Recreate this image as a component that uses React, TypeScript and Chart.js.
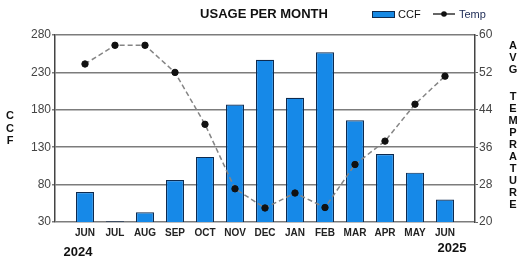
import { useEffect, useRef } from "react";
import { Chart, registerables } from "chart.js";
Chart.register(...registerables);

const months = ["JUN", "JUL", "AUG", "SEP", "OCT", "NOV", "DEC", "JAN", "FEB", "MAR", "APR", "MAY", "JUN"];
const ccf = [70, 31, 43, 86, 117, 187, 247, 196, 257, 166, 121, 96, 60];
const temp = [53.8, 57.8, 57.8, 52, 40.9, 27.1, 23, 26.2, 23.1, 32.3, 37.3, 45.2, 51.2];
const ccfMin = 30;
const ccfMax = 280;
const ccfStep = 50;
const tempMin = 20;
const tempMax = 60;
const tempStep = 8;
const yearStart = "2024";
const yearEnd = "2025";
const title = "USAGE PER MONTH";
const leftTitle = ["C", "C", "F"];
const rightTitle = ["A", "V", "G", "", "T", "E", "M", "P", "R", "A", "T", "U", "R", "E"];

const FONT = "'Liberation Sans', Arial, sans-serif";

const overlay = {
  id: "overlay",
  afterDraw(chart: any) {
    const ctx = chart.ctx;
    ctx.save();
    ctx.fillStyle = "#111";
    ctx.textBaseline = "middle";
    // title
    ctx.font = `bold 13px ${FONT}`;
    ctx.textAlign = "center";
    ctx.fillText(title, 264, 14);
    // legend
    ctx.fillStyle = "#1689e4";
    ctx.fillRect(372, 11, 23, 7);
    ctx.strokeStyle = "#0d2a4f";
    ctx.lineWidth = 1;
    ctx.strokeRect(372.5, 11.5, 22, 6);
    ctx.fillStyle = "#111";
    ctx.font = `11px ${FONT}`;
    ctx.textAlign = "left";
    ctx.fillText("CCF", 398, 14.5);
    ctx.strokeStyle = "#333";
    ctx.lineWidth = 1.5;
    ctx.beginPath();
    ctx.moveTo(433, 14);
    ctx.lineTo(455, 14);
    ctx.stroke();
    ctx.beginPath();
    ctx.arc(444, 14, 2.8, 0, Math.PI * 2);
    ctx.fillStyle = "#111";
    ctx.fill();
    ctx.fillStyle = "#1c2a55";
    ctx.font = `11px ${FONT}`;
    ctx.fillText("Temp", 459, 14.5);
    // axis titles
    ctx.fillStyle = "#111";
    ctx.font = `bold 11px ${FONT}`;
    ctx.textAlign = "center";
    leftTitle.forEach((c, i) => ctx.fillText(c, 10, 116 + i * 12.5));
    const rightY = [46, 58, 70, 0, 97, 109, 121, 133, 145, 157, 169, 181, 193, 205];
    rightTitle.forEach((c, i) => {
      if (c) ctx.fillText(c, 513, rightY[i]);
    });
    // years
    ctx.font = `bold 13px ${FONT}`;
    ctx.fillText(yearStart, 78, 252);
    ctx.fillText(yearEnd, 452, 248);
    ctx.restore();
  },
};

export default function App() {
  const ref = useRef<HTMLCanvasElement | null>(null);
  useEffect(() => {
    if (!ref.current) return;
    const labels = ["", ...months, ""];
    const chart = new Chart(ref.current, {
      type: "bar",
      data: {
        labels,
        datasets: [
          {
            type: "line",
            label: "Temp",
            data: [null, ...temp, null],
            yAxisID: "y1",
            borderColor: "#858585",
            borderWidth: 1.5,
            borderDash: [5, 3],
            pointRadius: 3.2,
            pointBackgroundColor: "#111",
            pointBorderColor: "#111",
            pointBorderWidth: 1,
            spanGaps: false,
            order: 0,
          } as any,
          {
            type: "bar",
            label: "CCF",
            data: [null, ...ccf, null],
            yAxisID: "y",
            backgroundColor: "#1689e8",
            borderColor: "#0d2a4f",
            borderWidth: 1.2,
            barPercentage: 0.75,
            categoryPercentage: 0.8,
            order: 1,
          } as any,
        ],
      },
      options: {
        responsive: false,
        animation: false,
        devicePixelRatio: 1,
        layout: { padding: { top: 35, left: 0, right: 0, bottom: 0 } },
        plugins: {
          legend: { display: false },
          title: { display: false },
          tooltip: { enabled: false },
        },
        scales: {
          x: {
            offset: false,
            grid: { display: false, drawTicks: false, tickLength: 0 },
            border: { display: false },
            ticks: {
              font: { family: FONT, size: 10, weight: "bold" },
              color: "#222",
              padding: 5,
              maxRotation: 0,
              autoSkip: false,
            },
            afterFit(scale: any) {
              scale.height = 36;
            },
          },
          y: {
            position: "left",
            min: ccfMin,
            max: ccfMax,
            ticks: {
              stepSize: ccfStep,
              font: { family: FONT, size: 12 },
              color: "#444",
              padding: 1,
            },
            grid: { color: "#7c7c7c", lineWidth: 1.5, tickLength: 3 },
            border: { color: "#444", width: 1.5 },
            afterFit(scale: any) {
              scale.width = 55;
            },
          },
          y1: {
            position: "right",
            min: tempMin,
            max: tempMax,
            ticks: {
              stepSize: tempStep,
              font: { family: FONT, size: 12 },
              color: "#444",
              padding: 1,
            },
            grid: { drawOnChartArea: false, color: "#666", tickLength: 3 },
            border: { color: "#444", width: 1.5 },
            afterFit(scale: any) {
              scale.width = 43;
            },
          },
        },
      },
      plugins: [overlay],
    });
    return () => chart.destroy();
  }, []);
  return (
    <div style={{ position: "fixed", left: 0, top: 0, width: 518, height: 258, background: "#fff" }}>
      <canvas ref={ref} width={518} height={258} style={{ width: 518, height: 258 }} />
    </div>
  );
}
